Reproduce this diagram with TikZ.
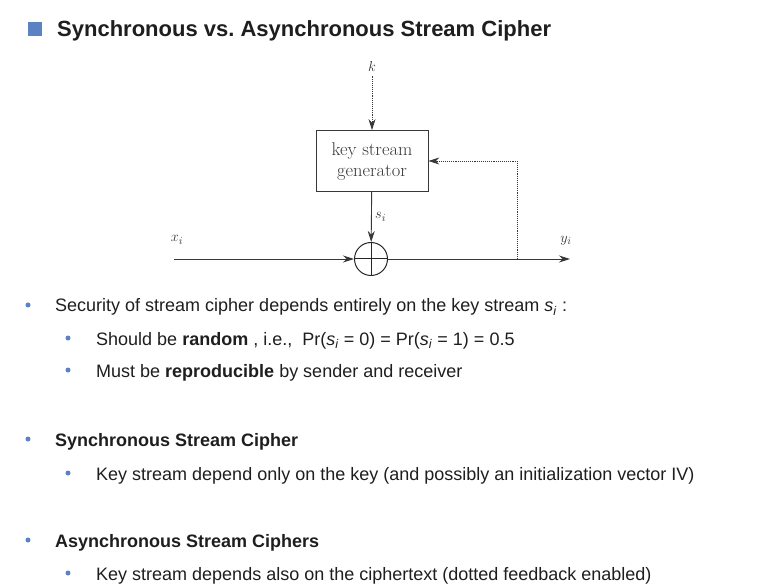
\documentclass[tikz,border=0pt]{standalone}
\usepackage{fontspec}
\newfontfamily\slidefont{Liberation Sans}
\usetikzlibrary{arrows.meta, positioning, calc}
\definecolor{slideblue}{RGB}{91,131,195}
\definecolor{slidetext}{RGB}{30,30,30}
\definecolor{scangray}{RGB}{55,55,55}
\newcommand{\keyst}{\textit{s}\textsubscript{\textit{i}}}

\begin{document}
\frenchspacing
\begin{tikzpicture}[
    x=1pt, y=-1pt,
    keybox/.style={draw=scangray, line width=0.8pt, minimum width=112pt, minimum height=61pt, inner sep=0pt, font=\fontsize{18.5}{21}\selectfont, text=scangray, align=center},
    xorop/.style={draw=black!85, circle, line width=1pt, minimum size=33pt, inner sep=0pt},
    arrow/.style={-{Stealth[length=11pt, width=7pt]}, line width=0.9pt, draw=scangray},
    feedback/.style={arrow, densely dotted},
    maths/.style={font=\fontsize{15}{15}\selectfont, text=scangray},
    item/.style={anchor=base west, inner sep=0pt, font=\slidefont\fontsize{18}{22}\selectfont, text=slidetext},
    bullet/.style={circle, fill=slideblue, inner sep=0pt, minimum size=5pt}
]
    \useasboundingbox (0,0) rectangle (769,588);

    % Title
    \fill[slideblue] (28,22) rectangle (42,36);
    \node[item, font=\slidefont\bfseries\fontsize{22}{26}\selectfont] (title) at (57,37) {Synchronous vs. Asynchronous Stream Cipher};

    % Cipher blocks
    \node[keybox] (keygen) at (372,161) {key stream\\generator};
    \node[xorop] (xor) at (371,259) {};
    \node[maths] (key) at (372,67) {$k$};
    \node[maths] (plain) at (177,240) {$x_i$};
    \node[maths] (cipher) at (566,241) {$y_i$};
    \coordinate (in) at (174,259);
    \coordinate (out) at (570,259);
    \coordinate (tap) at (517,259);

    % Connections
    \draw[feedback] (key) -- (keygen);
    \draw[arrow] (keygen) -- node[maths, right] {$s_i$} (xor);
    \draw[arrow] (in) -- (xor.west);
    \draw[arrow] (xor.east) -- (out);
    \draw[line width=1pt, black!85] (xor.north) -- (xor.south) (xor.west) -- (xor.east);
    \draw[feedback] (tap) |- (keygen.east);

    % Bullet points
    \node[item] (sec) at (55,312) {Security of stream cipher depends entirely on the key stream \keyst\ :};
    \node[item] (rand) at (96,345) {Should be \textbf{random} , i.e.,\ \ Pr(\keyst\ = 0) = Pr(\keyst\ = 1) = 0.5};
    \node[item] (repro) at (96,377) {Must be \textbf{reproducible} by sender and receiver};
    \node[item] (sync) at (55,446) {\textbf{Synchronous Stream Cipher}};
    \node[item] (syncdesc) at (96,480) {Key stream depend only on the key (and possibly an initialization vector IV)};
    \node[item] (async) at (55,547) {\textbf{Asynchronous Stream Ciphers}};
    \node[item] (asyncdesc) at (96,580) {Key stream depends also on the ciphertext (dotted feedback enabled)};

    \foreach \bx/\by in {28/305, 68/338, 68/370, 28/439, 68/473, 28/540, 68/573}
        \node[bullet] at (\bx,\by) {};

\end{tikzpicture}
\end{document}
